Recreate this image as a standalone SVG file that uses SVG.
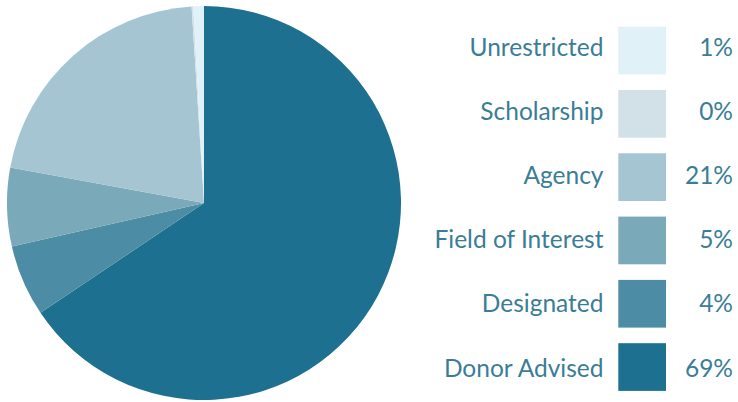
<svg xmlns="http://www.w3.org/2000/svg" width="738" height="402" viewBox="0 0 738 402">
<style>
.lbl{font-family:Lato,"Noto Sans","Liberation Sans",sans-serif;font-size:24.5px;fill:#3a7d97;text-anchor:end}
.c1{fill:#e0f2f7}.c2{fill:#d2e1e8}.c3{fill:#a6c5d2}.c4{fill:#7aa9ba}.c5{fill:#4d8ca5}.c6{fill:#1d7090}
</style>
<rect width="738" height="402" fill="#ffffff"/>
<g id="pie">
<path id="slice-donor" class="c6" d="M204,203 L204,6 A197,197 0 1 1 40.49,312.87 Z"/>
<path id="slice-designated" class="c5" d="M204,203 L40.49,312.87 A197,197 0 0 1 11.9,246.6 Z"/>
<path id="slice-field" class="c4" d="M204,203 L11.9,246.6 A197,197 0 0 1 10.2,167.4 Z"/>
<path id="slice-agency" class="c3" d="M204,203 L10.2,167.4 A197,197 0 0 1 191.6,6.4 Z"/>
<path id="slice-scholarship" class="c2" d="M204,203 L191.6,6.4 A197,197 0 0 1 193.3,6.3 Z"/>
<path id="slice-unrestricted" class="c1" d="M204,203 L193.3,6.3 A197,197 0 0 1 204,6 Z"/>
</g>
<g id="connectors"></g>
<g id="legend-unrestricted">
<text class="lbl" x="603.5" y="56">Unrestricted</text>
<rect class="c1" x="618.3" y="26.7" width="47.7" height="47.7"/>
<text class="lbl" x="733" y="56">1%</text>
</g>
<g id="legend-scholarship">
<text class="lbl" x="603.5" y="120.1">Scholarship</text>
<rect class="c2" x="618.3" y="90" width="47.7" height="47.7"/>
<text class="lbl" x="733" y="120.1">0%</text>
</g>
<g id="legend-agency">
<text class="lbl" x="603.5" y="184.2">Agency</text>
<rect class="c3" x="618.3" y="153.3" width="47.7" height="47.7"/>
<text class="lbl" x="733" y="184.2">21%</text>
</g>
<g id="legend-field">
<text class="lbl" x="603.5" y="248.3">Field of Interest</text>
<rect class="c4" x="618.3" y="216.6" width="47.7" height="47.7"/>
<text class="lbl" x="733" y="248.3">5%</text>
</g>
<g id="legend-designated">
<text class="lbl" x="603.5" y="312.4">Designated</text>
<rect class="c5" x="618.3" y="279.9" width="47.7" height="47.7"/>
<text class="lbl" x="733" y="312.4">4%</text>
</g>
<g id="legend-donor">
<text class="lbl" x="603.5" y="376.5">Donor Advised</text>
<rect class="c6" x="618.3" y="343.2" width="47.7" height="47.7"/>
<text class="lbl" x="733" y="376.5">69%</text>
</g>
</svg>
